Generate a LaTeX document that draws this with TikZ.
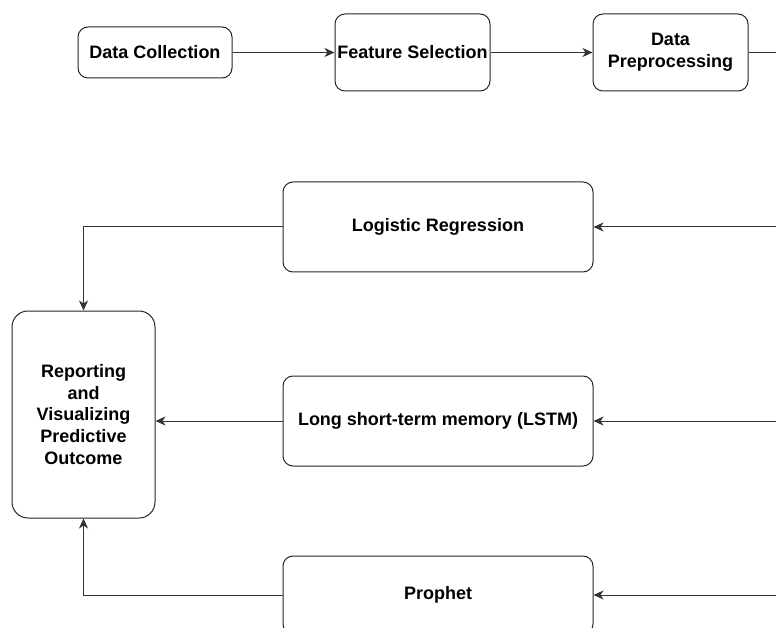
\documentclass[tikz,border=0pt]{standalone}
\usepackage{fontspec}
\setmainfont{Liberation Sans}
\usetikzlibrary{arrows.meta}
\begin{document}
\begin{tikzpicture}[x=1pt,y=-1pt,
  box/.style={draw=black!85, line width=1pt, rounded corners=10pt, fill=white,
    align=center, font=\fontsize{18}{21.7}\selectfont\bfseries, inner sep=0pt},
  conn/.style={draw=black!80, line width=1pt, -{Stealth[length=10pt,width=9pt,inset=3pt]}},
  plain/.style={draw=black!80, line width=1pt}]
\useasboundingbox (0,0) rectangle (776,628);
\begin{scope}
\clip (0,0) rectangle (776,628);
% pipeline across the top
\node[box, minimum width=154pt, minimum height=51pt] (collect) at (155,52.5) {Data Collection};
\node[box, minimum width=155pt, minimum height=77pt] (select) at (412.5,52.5) {Feature Selection};
\node[box, minimum width=155pt, minimum height=77pt] (prep) at (670.5,52.5) {Data\\Preprocessing};
% models
\node[box, minimum width=310pt, minimum height=90pt] (logit) at (438,227) {Logistic Regression};
\node[box, minimum width=310pt, minimum height=90pt] (lstm) at (438,421) {Long short-term memory (LSTM)};
\node[box, minimum width=310pt, minimum height=78pt] (prophet) at (438,595) {Prophet};
% output
\node[box, minimum width=143pt, minimum height=207pt, rounded corners=16pt] (report) at (83.5,414.5) {Reporting\\and\\Visualizing\\Predictive\\Outcome};
% feed points off the right edge
\coordinate (outprep) at (790,52.5);
\coordinate (inlogit) at (790,227);
\coordinate (inlstm) at (790,421);
\coordinate (inprophet) at (790,595);
% connectors
\draw[conn] (collect) -- (select);
\draw[conn] (select) -- (prep);
\draw[plain] (prep) -- (outprep);
\draw[conn] (inlogit) -- (logit);
\draw[conn] (inlstm) -- (lstm);
\draw[conn] (inprophet) -- (prophet);
\draw[conn] (logit.west) -| (report.north);
\draw[conn] (lstm) -- (lstm -| report.east);
\draw[conn] (prophet.west) -| (report.south);
\end{scope}
\end{tikzpicture}
\end{document}
